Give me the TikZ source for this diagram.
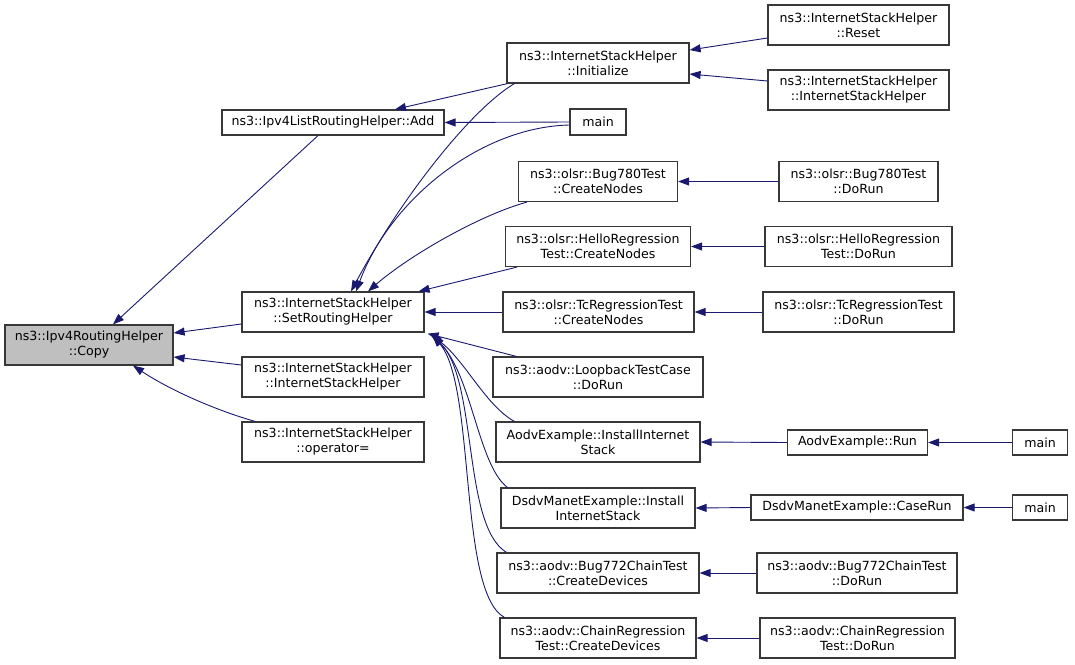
\documentclass[tikz,border=0pt]{standalone}
\usepackage{fontspec}
\setmainfont{DejaVu Sans}
\usetikzlibrary{arrows.meta}
\definecolor{midnight}{RGB}{25,25,112}
\definecolor{hl}{RGB}{191,191,191}
\begin{document}
\begin{tikzpicture}[x=1pt,y=-1pt,
  box/.style={draw=black!78, line width=1.2pt, fill=white, inner sep=0pt, align=center,
    font=\fontsize{12.6}{15}\selectfont, minimum height=40pt},
  sbox/.style={box, minimum height=25pt},
  edge/.style={draw=midnight, line width=0.9pt, -{Triangle[length=11pt,width=8pt]}}]
\useasboundingbox (0,0) rectangle (1075,664);
% column 1
\node[box, fill=hl, minimum width=168pt] (copy) at (89,345) {ns3::Ipv4RoutingHelper\\::Copy};
% column 2
\node[sbox, minimum width=222pt] (add) at (333,122.5) {ns3::Ipv4ListRoutingHelper::Add};
\node[box, minimum width=182pt] (srh) at (333,312) {ns3::InternetStackHelper\\::SetRoutingHelper};
\node[box, minimum width=182pt] (ishl) at (333,377) {ns3::InternetStackHelper\\::InternetStackHelper};
\node[box, minimum width=182pt] (opeq) at (333,442) {ns3::InternetStackHelper\\::operator=};
% column 3
\node[box, minimum width=182pt] (init) at (598,63) {ns3::InternetStackHelper\\::Initialize};
\node[sbox, minimum width=56pt, minimum height=26pt] (mainA) at (598,122) {main};
\node[box, minimum width=159pt] (bcn) at (598,181.5) {ns3::olsr::Bug780Test\\::CreateNodes};
\node[box, minimum width=185pt] (hcn) at (598,246.5) {ns3::olsr::HelloRegression\\Test::CreateNodes};
\node[box, minimum width=191pt] (tcn) at (598.5,312) {ns3::olsr::TcRegressionTest\\::CreateNodes};
\node[box, minimum width=210pt] (loop) at (598,377) {ns3::aodv::LoopbackTestCase\\::DoRun};
\node[box, minimum width=204pt] (ainst) at (598,442) {AodvExample::InstallInternet\\Stack};
\node[box, minimum width=194pt] (dinst) at (598,508) {DsdvManetExample::Install\\InternetStack};
\node[box, minimum width=202pt] (bcd) at (598,573) {ns3::aodv::Bug772ChainTest\\::CreateDevices};
\node[box, minimum width=196pt] (ccd) at (598,638) {ns3::aodv::ChainRegression\\Test::CreateDevices};
% column 4
\node[box, minimum width=181pt] (reset) at (858.5,25) {ns3::InternetStackHelper\\::Reset};
\node[box, minimum width=181pt] (ishr) at (858.5,90) {ns3::InternetStackHelper\\::InternetStackHelper};
\node[box, minimum width=159pt] (bdr) at (858.5,181.5) {ns3::olsr::Bug780Test\\::DoRun};
\node[box, minimum width=187pt] (hdr) at (858.5,246.5) {ns3::olsr::HelloRegression\\Test::DoRun};
\node[box, minimum width=191pt] (tdr) at (858.5,312) {ns3::olsr::TcRegressionTest\\::DoRun};
\node[sbox, minimum width=140pt] (arun) at (857.5,442.5) {AodvExample::Run};
\node[sbox, minimum width=212pt] (crun) at (857,507.5) {DsdvManetExample::CaseRun};
\node[box, minimum width=200pt] (b7dr) at (857,573) {ns3::aodv::Bug772ChainTest\\::DoRun};
\node[box, minimum width=195pt] (cdr) at (857.5,638) {ns3::aodv::ChainRegression\\Test::DoRun};
% column 5
\node[sbox, minimum width=55pt] (mainB) at (1040,442.5) {main};
\node[sbox, minimum width=55pt] (mainC) at (1040,507.5) {main};
% edges to Copy
\draw[edge] ([xshift=-15pt]add.south) -- ([xshift=24pt]copy.north);
\draw[edge] ([yshift=-12pt]srh.west) -- ([yshift=12pt]copy.east);
\draw[edge] ([yshift=12pt]ishl.west) -- ([yshift=-12pt]copy.east);
\draw[edge] ([xshift=-78pt]opeq.north) .. controls (215,410) and (170,390) .. ([xshift=44pt]copy.south);
% edges to Add
\draw[edge] ([xshift=1pt]init.south west) -- ([xshift=62pt]add.north);
\draw[edge] (mainA.west) -- (add.east);
% edges to SetRoutingHelper
\draw[edge] ([xshift=8pt]init.south west) .. controls (470,110) and (400,200) .. ([xshift=18pt]srh.north);
\draw[edge] ([yshift=-3pt]mainA.west) .. controls (480,127) and (390,200) .. ([xshift=23pt]srh.north);
\draw[edge] ([xshift=9pt]bcn.south west) .. controls (480,215) and (410,255) .. ([xshift=35pt]srh.north);
\draw[edge] ([xshift=12pt]hcn.south west) -- ([xshift=-6pt]srh.north east);
\draw[edge] (tcn.west) -- (srh.east);
\draw[edge] ([xshift=24pt]loop.north west) -- ([xshift=3pt,yshift=-1pt]srh.south east);
\draw[edge] ([xshift=19pt]ainst.north west) .. controls (485,405) and (465,360) .. ([xshift=6pt,yshift=-2pt]srh.south east);
\draw[edge] ([xshift=7pt]dinst.north west) .. controls (478,465) and (472,375) .. ([xshift=8pt,yshift=-3pt]srh.south east);
\draw[edge] ([xshift=10pt]bcd.north west) .. controls (462,525) and (478,380) .. ([xshift=8pt,yshift=-3pt]srh.south east);
\draw[edge] ([xshift=5pt]ccd.north west) .. controls (458,592) and (476,385) .. ([xshift=8pt,yshift=-3pt]srh.south east);
% edges to Initialize
\draw[edge] ([yshift=-13pt]reset.west) -- ([yshift=13pt]init.east);
\draw[edge] ([yshift=9pt]ishr.west) -- ([yshift=-11pt]init.east);
% horizontal edges
\draw[edge] (bdr.west) -- (bcn.east);
\draw[edge] (hdr.west) -- (hcn.east);
\draw[edge] (tdr.west) -- (tcn.east);
\draw[edge] (arun.west) -- (ainst.east);
\draw[edge] (mainB.west) -- (arun.east);
\draw[edge] (crun.west) -- (dinst.east);
\draw[edge] (mainC.west) -- (crun.east);
\draw[edge] (b7dr.west) -- (bcd.east);
\draw[edge] (cdr.west) -- (ccd.east);
\end{tikzpicture}
\end{document}
